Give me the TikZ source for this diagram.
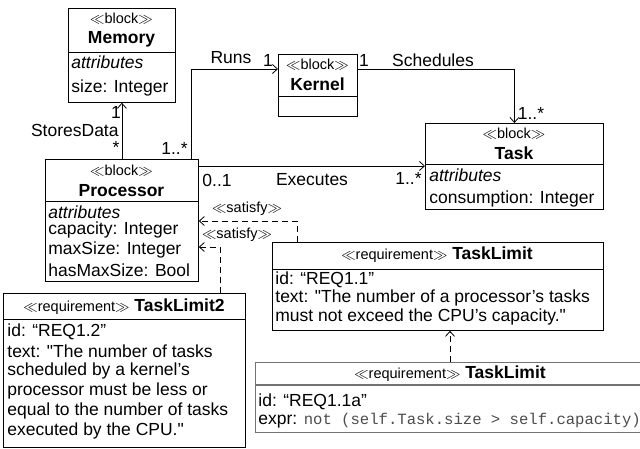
\documentclass[tikz,border=0pt]{standalone}
\usepackage{fontspec}
\setmainfont{Liberation Sans}[Ligatures=TeXOff]
\setmonofont{Liberation Mono}
\usetikzlibrary{arrows.meta}

\begin{document}
\begin{tikzpicture}[x=1pt, y=-1pt, line width=0.8pt, >={Straight Barb[length=5pt,width=9pt]},
		font=\fontsize{17.5}{19}\selectfont,
		blk/.style={draw, anchor=north west, inner sep=0pt},
		dim/.style={draw=black!55, line width=1.3pt, anchor=north west, inner sep=0pt},
		t/.style={anchor=west, inner sep=0pt},
		c/.style={inner sep=0pt},
		st/.style={font=\fontsize{14.5}{16}\selectfont},
		sat/.style={->, dashed, dash pattern=on 6pt off 4pt}]
		\useasboundingbox (0,0) rectangle (640,449);

		% blocks
		\node [blk, minimum width=107pt, minimum height=94pt] (mem) at (68,8) {};
		\node [blk, minimum width=79pt, minimum height=62pt] (kern) at (278,54) {};
		\node [blk, minimum width=178pt, minimum height=86pt] (task) at (425,123) {};
		\node [blk, minimum width=153pt, minimum height=122pt] (proc) at (45,159) {};
		\node [blk, minimum width=331pt, minimum height=88pt] (tl) at (272,242) {};
		\node [blk, minimum width=242pt, minimum height=154pt] (tl2) at (3,293) {};
		\node [dim, minimum width=420pt, minimum height=70pt] (tla) at (255,362) {};

		\draw (mem.west |- 0,52) -- (mem.east |- 0,52);
		\draw (kern.west |- 0,96) -- (kern.east |- 0,96);
		\draw (task.west |- 0,164) -- (task.east |- 0,164);
		\draw (proc.west |- 0,201) -- (proc.east |- 0,201);
		\draw (tl.west |- 0,269) -- (tl.east |- 0,269);
		\draw (tl2.west |- 0,319) -- (tl2.east |- 0,319);
		\draw [black!55, line width=1.3pt] (tla.west |- 0,385) -- (tla.east |- 0,385);

		% block texts
		\node [c, st] at (121.5,19) {$\ll$block$\gg$};
		\node [c] at (121.5,39) {\bfseries Memory};
		\node [t] at (71,62) {\itshape attributes};
		\node [t] at (71,88) {size: Integer};

		\node [c, st] at (317.5,65) {$\ll$block$\gg$};
		\node [c] at (317.5,84) {\bfseries Kernel};

		\node [c, st] at (514,134) {$\ll$block$\gg$};
		\node [c] at (514,153) {\bfseries Task};
		\node [t] at (429,175) {\itshape attributes};
		\node [t] at (429,199) {consumption: Integer};

		\node [c, st] at (121.5,171) {$\ll$block$\gg$};
		\node [c] at (121.5,191) {\bfseries Processor};
		\node [t] at (48,212) {\itshape attributes};
		\node [t] at (48,230) {capacity: Integer};
		\node [t] at (48,250) {maxSize: Integer};
		\node [t] at (48,270) {hasMaxSize: Bool};

		% requirements
		\node [c] at (437,255) {{\fontsize{14.5}{16}\selectfont$\ll$requirement$\gg$} \bfseries TaskLimit};
		\node [t] at (275,280) {id: “REQ1.1”};
		\node [t] at (275,298) {text: "The number of a processor’s tasks};
		\node [t] at (275,317) {must not exceed the CPU’s capacity."};

		\node [c] at (124,307) {{\fontsize{14.5}{16}\selectfont$\ll$requirement$\gg$} \bfseries TaskLimit2};
		\node [t] at (7,332) {id: “REQ1.2”};
		\node [t] at (7,351) {text: "The number of tasks};
		\node [t] at (7,371) {scheduled by a kernel’s};
		\node [t] at (7,391) {processor must be less or};
		\node [t] at (7,411) {equal to the number of tasks};
		\node [t] at (7,431) {executed by the CPU."};

		\node [c] at (450,374) {{\fontsize{14.5}{16}\selectfont$\ll$requirement$\gg$} \bfseries TaskLimit};
		\node [t] at (258,402) {id: “REQ1.1a”};
		\node [t] at (258,421) {expr: {\fontsize{15.6}{16}\selectfont\ttfamily\color{black!70}not (self.Task.size > self.capacity)}};

		% associations
		\draw [->] (proc.north) -- (mem.south);
		\draw [->] (proc.north -| 191,0) |- (kern.west |- 0,69);
		\draw [->] (kern.east |- 0,69) -| (task.north);
		\draw [->] (proc.east |- 0,166) -- (task.west |- 0,166);
		\draw [sat] (tl.north -| 297,0) |- (proc.east |- 0,221);
		\draw [sat] (tl2.north -| 220,0) |- (proc.east |- 0,247);
		\draw [sat] (tla.north -| 450,0) -- (tl.south -| 450,0);

		% labels
		\node [c] at (116,112) {1};
		\node [c, anchor=east] at (119,130) {StoresData};
		\node [c] at (116,147) {*};
		\node [c, anchor=east] at (188,148) {1..*};
		\node [c] at (231,58) {Runs};
		\node [c] at (268,60) {1};
		\node [c] at (364,60) {1};
		\node [c] at (433,60) {Schedules};
		\node [c] at (531,113) {1..*};
		\node [c] at (217,180) {0..1};
		\node [c] at (312,180) {Executes};
		\node [c, anchor=east] at (422,178) {1..*};
		\node [c, st] at (247,209) {$\ll$satisfy$\gg$};
		\node [c, st] at (237,235) {$\ll$satisfy$\gg$};
	\end{tikzpicture}
\end{document}
